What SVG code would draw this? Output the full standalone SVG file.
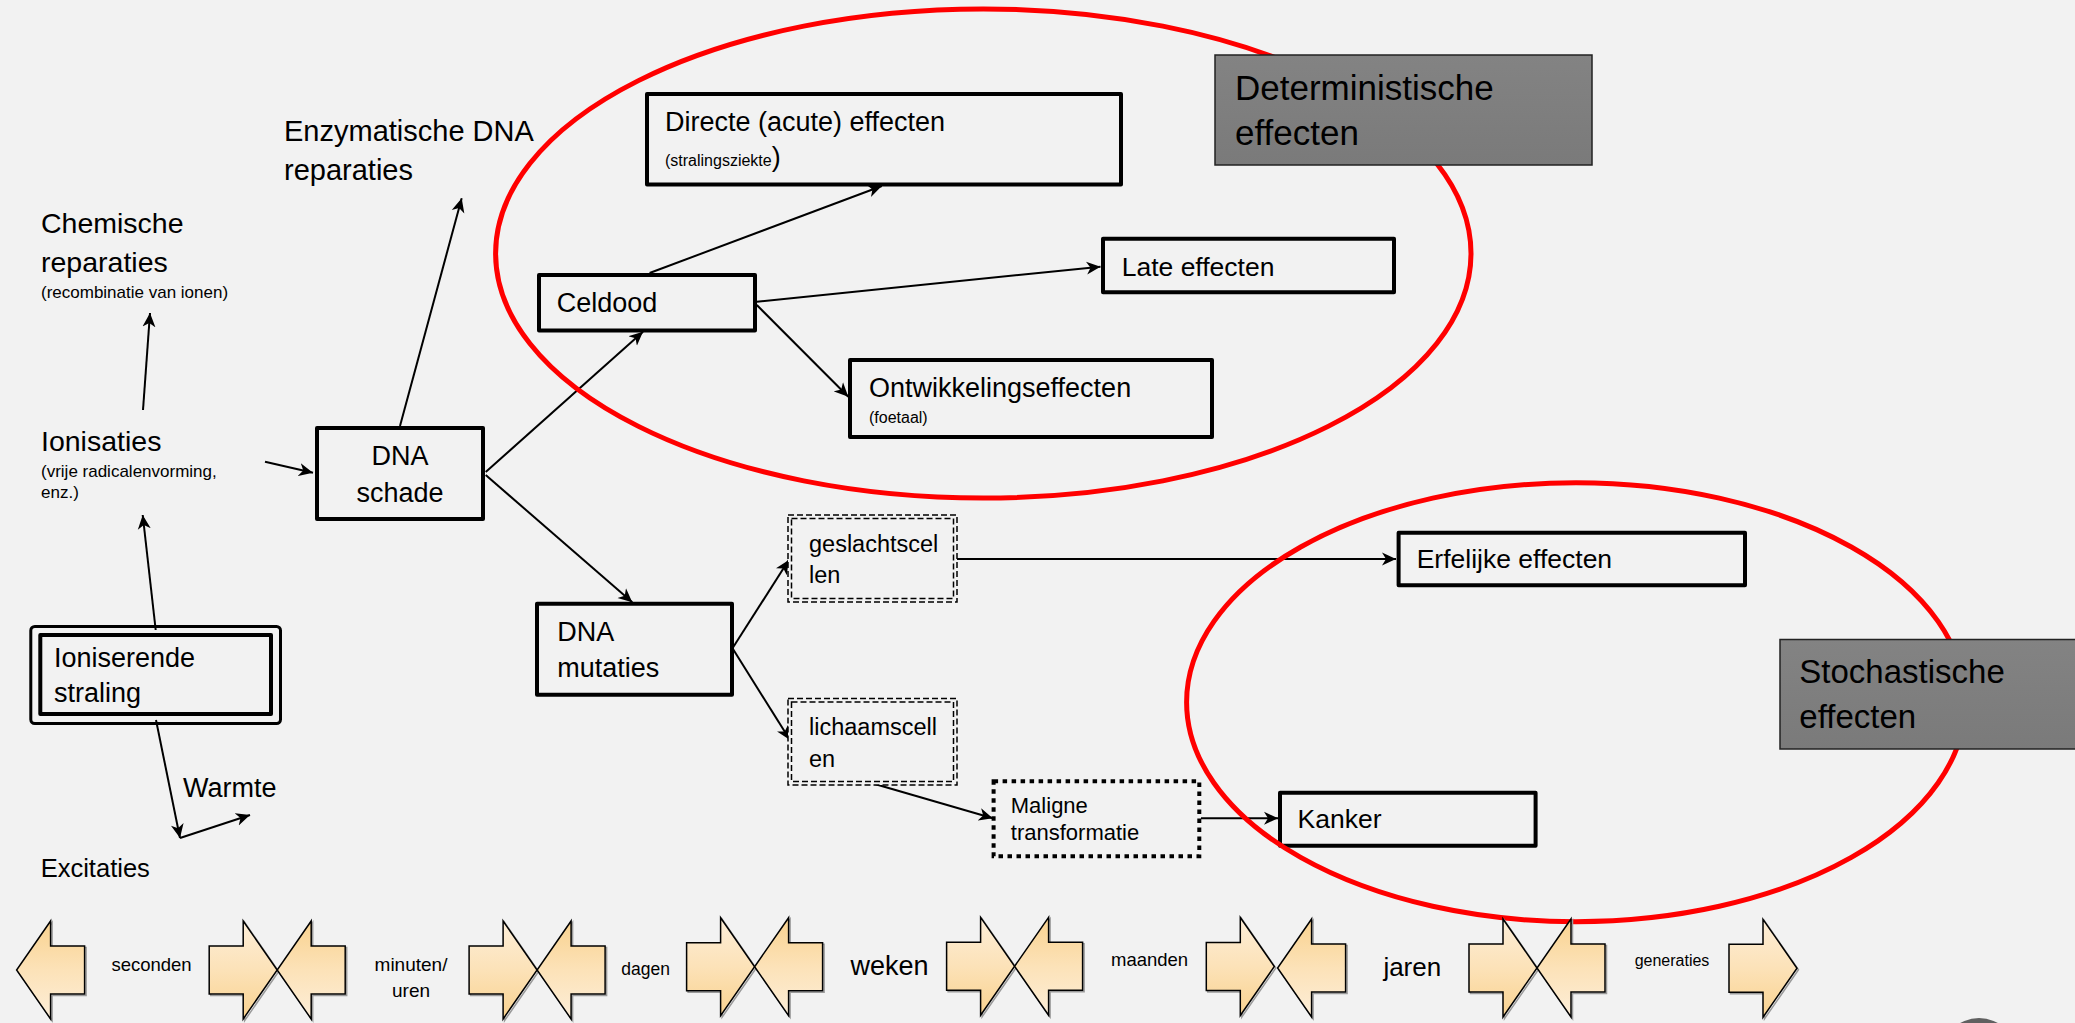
<svg xmlns="http://www.w3.org/2000/svg" width="2075" height="1023" viewBox="0 0 2075 1023">
<defs>
<style>
text{font-family:"Liberation Sans",Arial,sans-serif;fill:#000}
.box{fill:#f2f2f2;stroke:#000;stroke-width:4;stroke-linejoin:round}
.con{stroke:#000;stroke-width:2;fill:none;marker-end:url(#ah)}
.red{fill:none;stroke:#ff0000;stroke-width:5}
.gray{fill:url(#gg);stroke:#222;stroke-width:1.5}
.dash{fill:none;stroke:#000;stroke-width:1.5;stroke-dasharray:6 3}
.dot{fill:#f2f2f2;stroke:#000;stroke-width:4;stroke-dasharray:4.5 4.5}
.t28{font-size:28.5px}
.t27{font-size:27px}
.t16{font-size:16px}
.t17{font-size:17px}
.t35{font-size:35px}
.tl{font-size:23.5px}
.tm{font-size:22px}
.arR{fill:url(#gR);stroke:#000;stroke-width:1.5;stroke-linejoin:miter}
.arL{fill:url(#gL);stroke:#000;stroke-width:1.5;stroke-linejoin:miter}
.sh{fill:none;stroke:#9a9a9a;stroke-width:1.5}
</style>
<marker id="ah" markerUnits="userSpaceOnUse" markerWidth="16" markerHeight="14" viewBox="0 -7 16 14" refX="14" refY="0" orient="auto">
<path d="M0,-6.5 L14,0 L0,6.5 L4,0 Z" fill="#000"/>
</marker>
<linearGradient id="gg" x1="0" y1="0" x2="0" y2="1">
<stop offset="0" stop-color="#838383"/>
<stop offset="1" stop-color="#7a7a7a"/>
</linearGradient>
<linearGradient id="gR" x1="0" y1="0" x2="0" y2="1">
<stop offset="0" stop-color="#fdeed8"/>
<stop offset="0.5" stop-color="#fce2b8"/>
<stop offset="1" stop-color="#f9d28f"/>
</linearGradient>
<linearGradient id="gL" x1="0" y1="0" x2="0" y2="1">
<stop offset="0" stop-color="#f9d28f"/>
<stop offset="0.5" stop-color="#fce2b8"/>
<stop offset="1" stop-color="#fdeed8"/>
</linearGradient>
<path id="pR" d="M-68,-24 L-34,-24 L-34,-49 L0,0 L-34,49 L-34,24 L-68,24 Z"/>
<path id="pL" d="M68,-24 L34,-24 L34,-49 L0,0 L34,49 L34,24 L68,24 Z"/>
</defs>
<rect x="0" y="0" width="2075" height="1023" fill="#f2f2f2"/>

<!-- connectors -->
<g id="connectors">
<line class="con" x1="143" y1="410" x2="150" y2="313"/>
<line class="con" x1="155.7" y1="630" x2="142.7" y2="515"/>
<line class="con" x1="156" y1="720" x2="180" y2="838"/>
<line class="con" x1="180" y1="838" x2="250" y2="815"/>
<line class="con" x1="265" y1="461.7" x2="313" y2="472.7"/>
<line class="con" x1="400" y1="426" x2="461.7" y2="198.3"/>
<line class="con" x1="485.7" y1="472" x2="643" y2="331.7"/>
<line class="con" x1="485.7" y1="475" x2="632.3" y2="602.3"/>
<line class="con" x1="649.6" y1="273" x2="881.8" y2="186"/>
<line class="con" x1="756.8" y1="301.7" x2="1100.5" y2="266.7"/>
<line class="con" x1="756.8" y1="305" x2="848.3" y2="396.7"/>
<line class="con" x1="732.5" y1="648.3" x2="788.8" y2="560"/>
<line class="con" x1="732.5" y1="648.3" x2="790" y2="740"/>
<line class="con" x1="957" y1="559" x2="1396" y2="559"/>
<line class="con" x1="872.2" y1="783.3" x2="992.8" y2="818.3"/>
<line class="con" x1="1201" y1="818.3" x2="1278" y2="818.3"/>
</g>

<!-- free labels -->
<g id="enzymatische">
<text class="t28" x="284" y="140.7" style="font-size:29px">Enzymatische DNA</text>
<text class="t28" x="284" y="179.5" style="font-size:29px">reparaties</text>
</g>
<g id="chemische">
<text class="t28" x="41" y="233">Chemische</text>
<text class="t28" x="41" y="271.7">reparaties</text>
<text class="t17" x="41" y="298">(recombinatie van ionen)</text>
</g>
<g id="ionisaties">
<text class="t28" x="41" y="450.7">Ionisaties</text>
<text class="t17" x="41" y="477">(vrije radicalenvorming,</text>
<text class="t17" x="41" y="498">enz.)</text>
</g>
<g id="warmte"><text class="t27" x="183" y="796.7">Warmte</text></g>
<g id="excitaties"><text class="t27" x="40.7" y="877" style="font-size:25.5px">Excitaties</text></g>

<!-- boxes -->
<g id="ioniserende">
<rect x="30.8" y="626.5" width="249.7" height="97" rx="4" fill="none" stroke="#000" stroke-width="3"/>
<rect x="40.3" y="635" width="230.7" height="79" class="box"/>
<text class="t27" x="54" y="666.7">Ioniserende</text>
<text class="t27" x="54" y="701.7">straling</text>
</g>
<g id="dna-schade">
<rect class="box" x="317" y="428" width="166" height="91"/>
<text class="t27" x="400" y="465" text-anchor="middle">DNA</text>
<text class="t27" x="400" y="501.7" text-anchor="middle">schade</text>
</g>
<g id="celdood">
<rect class="box" x="539" y="275" width="216" height="55.5"/>
<text class="t27" x="556.8" y="312">Celdood</text>
</g>
<g id="directe">
<rect class="box" x="647" y="94" width="474" height="90.5"/>
<text class="t27" x="665" y="130.7">Directe (acute) effecten</text>
<text x="665" y="166"><tspan class="t16">(stralingsziekte</tspan><tspan class="t27">)</tspan></text>
</g>
<g id="late">
<rect class="box" x="1103" y="238.7" width="291" height="53.6"/>
<text class="t27" x="1121.7" y="276" style="font-size:26.5px">Late effecten</text>
</g>
<g id="ontwikkeling">
<rect class="box" x="850" y="360" width="362" height="77"/>
<text class="t27" x="869" y="397">Ontwikkelingseffecten</text>
<text class="t16" x="869" y="423">(foetaal)</text>
</g>
<g id="dna-mutaties">
<rect class="box" x="537" y="603.7" width="195" height="91"/>
<text class="t27" x="557.3" y="640.7">DNA</text>
<text class="t27" x="557.3" y="676.7">mutaties</text>
</g>
<g id="geslachtscellen">
<rect x="788" y="515" width="169" height="87" fill="#f2f2f2"/>
<rect class="dash" x="788" y="515" width="169" height="87"/>
<rect class="dash" x="791.5" y="518.5" width="162" height="80"/>
<text class="tl" x="809" y="551.7">geslachtscel</text>
<text class="tl" x="809" y="583">len</text>
</g>
<g id="lichaamscellen">
<rect x="788" y="698.5" width="169" height="86.5" fill="#f2f2f2"/>
<rect class="dash" x="788" y="698.5" width="169" height="86.5"/>
<rect class="dash" x="791.5" y="702" width="162" height="79.5"/>
<text class="tl" x="809" y="735">lichaamscell</text>
<text class="tl" x="809" y="766.7">en</text>
</g>
<g id="maligne">
<rect class="dot" x="993.6" y="781.3" width="205.7" height="75"/>
<text class="tm" x="1010.8" y="812.7">Maligne</text>
<text class="tm" x="1010.8" y="840">transformatie</text>
</g>
<g id="erfelijke">
<rect class="box" x="1398.6" y="532.7" width="346.4" height="52.6"/>
<text class="t27" x="1416.7" y="568.3" style="font-size:26.5px">Erfelijke effecten</text>
</g>
<g id="kanker">
<rect class="box" x="1280" y="792.7" width="255.6" height="53"/>
<text class="t27" x="1297.5" y="828.3" style="font-size:26.5px">Kanker</text>
</g>

<!-- red groupings -->
<g id="groups">
<ellipse class="red" cx="983.3" cy="253.5" rx="487.7" ry="244.5"/>
<ellipse class="red" cx="1576" cy="702.2" rx="389.4" ry="219.5"/>
</g>

<g id="deterministische">
<rect class="gray" x="1215" y="55" width="377" height="110"/>
<text class="t35" x="1235" y="100">Deterministische</text>
<text class="t35" x="1235" y="145">effecten</text>
</g>
<g id="stochastische">
<rect class="gray" x="1780" y="639.5" width="300" height="109.5"/>
<text class="t35" x="1799.3" y="683.3" style="font-size:33px">Stochastische</text>
<text class="t35" x="1799.3" y="728.3" style="font-size:33px">effecten</text>
</g>

<!-- timeline -->
<g id="timeline">
<g transform="translate(16.6,970)"><use href="#pL" class="sh" transform="translate(1.5,1.5)"/><use href="#pL" class="arL"/></g>
<g transform="translate(277.2,970)"><use href="#pR" class="sh" transform="translate(1.5,1.5)"/><use href="#pR" class="arR"/></g>
<g transform="translate(277.2,970)"><use href="#pL" class="sh" transform="translate(1.5,1.5)"/><use href="#pL" class="arL"/></g>
<g transform="translate(537.1,970)"><use href="#pR" class="sh" transform="translate(1.5,1.5)"/><use href="#pR" class="arR"/></g>
<g transform="translate(537.1,970)"><use href="#pL" class="sh" transform="translate(1.5,1.5)"/><use href="#pL" class="arL"/></g>
<g transform="translate(754.6,966.7)"><use href="#pR" class="sh" transform="translate(1.5,1.5)"/><use href="#pR" class="arR"/></g>
<g transform="translate(754.6,966.7)"><use href="#pL" class="sh" transform="translate(1.5,1.5)"/><use href="#pL" class="arL"/></g>
<g transform="translate(1014.6,966.3)"><use href="#pR" class="sh" transform="translate(1.5,1.5)"/><use href="#pR" class="arR"/></g>
<g transform="translate(1014.6,966.3)"><use href="#pL" class="sh" transform="translate(1.5,1.5)"/><use href="#pL" class="arL"/></g>
<g transform="translate(1274.3,966.5)"><use href="#pR" class="sh" transform="translate(1.5,1.5)"/><use href="#pR" class="arR"/></g>
<g transform="translate(1277.6,968)"><use href="#pL" class="sh" transform="translate(1.5,1.5)"/><use href="#pL" class="arL"/></g>
<g transform="translate(1537,968)"><use href="#pR" class="sh" transform="translate(1.5,1.5)"/><use href="#pR" class="arR"/></g>
<g transform="translate(1537,968)"><use href="#pL" class="sh" transform="translate(1.5,1.5)"/><use href="#pL" class="arL"/></g>
<g transform="translate(1797,968.3)"><use href="#pR" class="sh" transform="translate(1.5,1.5)"/><use href="#pR" class="arR"/></g>
<text x="151.5" y="970.7" text-anchor="middle" style="font-size:18.5px">seconden</text>
<text x="411" y="970.7" text-anchor="middle" style="font-size:19px">minuten/</text>
<text x="411" y="996.7" text-anchor="middle" style="font-size:19px">uren</text>
<text x="645.6" y="975" text-anchor="middle" style="font-size:17.5px">dagen</text>
<text x="889.6" y="975" text-anchor="middle" style="font-size:27px">weken</text>
<text x="1149.6" y="965.5" text-anchor="middle" style="font-size:18.5px">maanden</text>
<text x="1412.3" y="975.5" text-anchor="middle" style="font-size:26px">jaren</text>
<text x="1672" y="965.5" text-anchor="middle" style="font-size:16px">generaties</text>
</g>
<circle cx="1979" cy="1056" r="38" fill="#606060"/>
</svg>
